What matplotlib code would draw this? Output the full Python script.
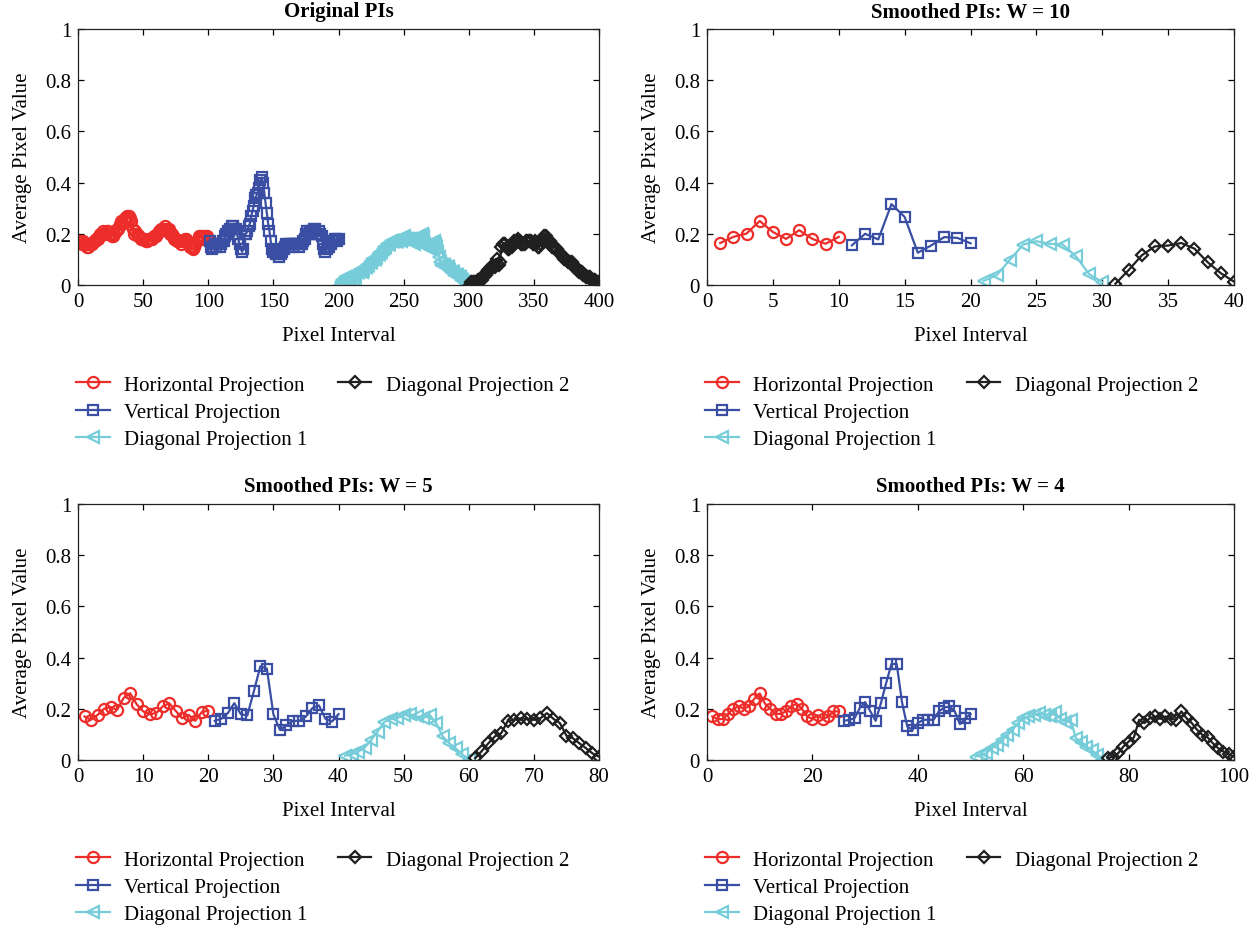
import numpy as np
import matplotlib
matplotlib.use("Agg")
import matplotlib.pyplot as plt
from matplotlib.lines import Line2D
from matplotlib.ticker import FuncFormatter

# ---------------- data ----------------
series_names = ["Horizontal Projection", "Vertical Projection",
                "Diagonal Projection 1", "Diagonal Projection 2"]

# Original PIs (100 values per projection)
orig_h = [0.17, 0.17, 0.16, 0.17, 0.16, 0.16, 0.15, 0.15, 0.16, 0.16,
          0.16, 0.17, 0.17, 0.18, 0.18, 0.19, 0.20, 0.20, 0.21, 0.20,
          0.20, 0.21, 0.21, 0.20, 0.20, 0.19, 0.19, 0.20, 0.21, 0.22,
          0.22, 0.24, 0.25, 0.24, 0.25, 0.26, 0.26, 0.27, 0.27, 0.26,
          0.25, 0.22, 0.20, 0.21, 0.20, 0.19, 0.19, 0.18, 0.18, 0.18,
          0.18, 0.17, 0.17, 0.18, 0.18, 0.18, 0.18, 0.19, 0.19, 0.19,
          0.20, 0.21, 0.21, 0.22, 0.22, 0.22, 0.23, 0.22, 0.21, 0.22,
          0.20, 0.20, 0.19, 0.18, 0.18, 0.17, 0.17, 0.17, 0.16, 0.17,
          0.17, 0.18, 0.18, 0.17, 0.16, 0.15, 0.15, 0.14, 0.15, 0.16,
          0.17, 0.18, 0.19, 0.19, 0.19, 0.19, 0.18, 0.19, 0.19, 0.18]
orig_v = [0.17, 0.15, 0.14, 0.15, 0.16, 0.15, 0.16, 0.16, 0.15, 0.16,
          0.17, 0.17, 0.19, 0.20, 0.21, 0.21, 0.22, 0.23, 0.23, 0.22,
          0.22, 0.20, 0.18, 0.16, 0.14, 0.13, 0.14, 0.20, 0.20, 0.21,
          0.23, 0.24, 0.27, 0.29, 0.31, 0.34, 0.35, 0.36, 0.38, 0.41,
          0.42, 0.40, 0.36, 0.32, 0.28, 0.24, 0.21, 0.17, 0.14, 0.13,
          0.13, 0.12, 0.12, 0.11, 0.12, 0.12, 0.13, 0.14, 0.15, 0.16,
          0.16, 0.15, 0.16, 0.16, 0.15, 0.16, 0.16, 0.16, 0.16, 0.15,
          0.16, 0.16, 0.17, 0.18, 0.20, 0.21, 0.20, 0.21, 0.20, 0.21,
          0.22, 0.22, 0.20, 0.20, 0.21, 0.20, 0.19, 0.16, 0.14, 0.13,
          0.14, 0.15, 0.15, 0.16, 0.17, 0.17, 0.18, 0.18, 0.17, 0.18]
orig_d1 = [0.00, 0.01, 0.02, 0.02, 0.03, 0.02, 0.01, 0.02, 0.03, 0.04,
           0.02, 0.02, 0.03, 0.05, 0.05, 0.06, 0.06, 0.05, 0.06, 0.07,
           0.07, 0.08, 0.08, 0.09, 0.09, 0.10, 0.10, 0.10, 0.11, 0.12,
           0.12, 0.13, 0.13, 0.14, 0.15, 0.15, 0.16, 0.16, 0.16, 0.17,
           0.17, 0.17, 0.17, 0.17, 0.17, 0.18, 0.18, 0.17, 0.18, 0.19,
           0.18, 0.18, 0.18, 0.17, 0.18, 0.17, 0.17, 0.16, 0.17, 0.18,
           0.18, 0.18, 0.19, 0.20, 0.19, 0.16, 0.15, 0.15, 0.15, 0.14,
           0.15, 0.16, 0.17, 0.16, 0.15, 0.13, 0.11, 0.09, 0.08, 0.08,
           0.08, 0.07, 0.07, 0.07, 0.06, 0.05, 0.05, 0.05, 0.04, 0.04,
           0.04, 0.03, 0.03, 0.02, 0.02, 0.01, 0.01, 0.00, 0.00, 0.00]
orig_d2 = [0.00, 0.01, 0.01, 0.01, 0.01, 0.01, 0.02, 0.02, 0.02, 0.02,
           0.03, 0.04, 0.04, 0.05, 0.06, 0.06, 0.07, 0.07, 0.08, 0.07,
           0.08, 0.10, 0.08, 0.09, 0.15, 0.16, 0.16, 0.16, 0.15, 0.14,
           0.14, 0.15, 0.15, 0.16, 0.17, 0.17, 0.17, 0.18, 0.17, 0.16,
           0.16, 0.16, 0.16, 0.17, 0.17, 0.17, 0.17, 0.17, 0.16, 0.16,
           0.17, 0.16, 0.15, 0.15, 0.16, 0.17, 0.18, 0.19, 0.19, 0.18,
           0.17, 0.17, 0.16, 0.15, 0.15, 0.15, 0.14, 0.14, 0.13, 0.12,
           0.12, 0.11, 0.10, 0.10, 0.10, 0.09, 0.09, 0.09, 0.09, 0.08,
           0.07, 0.07, 0.06, 0.06, 0.05, 0.05, 0.05, 0.04, 0.04, 0.03,
           0.03, 0.03, 0.03, 0.02, 0.02, 0.02, 0.02, 0.01, 0.01, 0.01]

# Smoothed W = 10 (10 values per projection)
w10_h = [0.164, 0.188, 0.201, 0.250, 0.207, 0.180, 0.214, 0.180, 0.161, 0.188]
w10_v = [0.155, 0.200, 0.178, 0.316, 0.266, 0.126, 0.154, 0.187, 0.184, 0.163]
w10_d1 = [0.016, 0.039, 0.099, 0.158, 0.171, 0.161, 0.158, 0.112, 0.043, 0.011]
w10_d2 = [0.005, 0.058, 0.116, 0.151, 0.154, 0.164, 0.142, 0.089, 0.046, 0.013]

# Smoothed W = 5 (20 values per projection)
w5_h = [0.170, 0.157, 0.176, 0.200, 0.207, 0.196, 0.242, 0.261, 0.218, 0.190,
        0.179, 0.183, 0.209, 0.222, 0.192, 0.163, 0.176, 0.153, 0.187, 0.193]
w5_v = [0.153, 0.161, 0.183, 0.222, 0.179, 0.174, 0.268, 0.366, 0.357, 0.179,
        0.118, 0.135, 0.153, 0.153, 0.170, 0.203, 0.213, 0.161, 0.150, 0.179]
w5_d1 = [0.017, 0.022, 0.033, 0.048, 0.078, 0.111, 0.148, 0.161, 0.163, 0.176,
         0.179, 0.170, 0.163, 0.176, 0.144, 0.092, 0.065, 0.046, 0.022, 0.004]
w5_d2 = [0.007, 0.035, 0.065, 0.092, 0.105, 0.153, 0.157, 0.163, 0.161, 0.157,
         0.163, 0.183, 0.161, 0.144, 0.095, 0.085, 0.065, 0.046, 0.026, 0.013]

# Smoothed W = 4 (25 values per projection)
w4_h = [0.170, 0.160, 0.160, 0.180, 0.200, 0.210, 0.200, 0.210, 0.240, 0.260,
        0.220, 0.200, 0.180, 0.180, 0.190, 0.210, 0.220, 0.200, 0.170, 0.160,
        0.175, 0.160, 0.170, 0.190, 0.190]
w4_v = [0.153, 0.157, 0.163, 0.203, 0.226, 0.190, 0.153, 0.222, 0.301, 0.375,
        0.375, 0.226, 0.131, 0.118, 0.144, 0.157, 0.157, 0.157, 0.190, 0.205,
        0.209, 0.190, 0.140, 0.163, 0.179]
w4_d1 = [0.013, 0.022, 0.026, 0.046, 0.059, 0.078, 0.098, 0.118, 0.144, 0.163,
         0.170, 0.176, 0.183, 0.176, 0.170, 0.187, 0.161, 0.150, 0.157, 0.085,
         0.072, 0.052, 0.039, 0.020, 0.004]
w4_d2 = [0.007, 0.013, 0.026, 0.052, 0.072, 0.088, 0.157, 0.144, 0.163, 0.170,
         0.161, 0.170, 0.161, 0.157, 0.190, 0.163, 0.144, 0.118, 0.098, 0.088,
         0.065, 0.046, 0.033, 0.022, 0.013]

titles = ["Original PIs", "Smoothed PIs: W = 10",
          "Smoothed PIs: W = 5", "Smoothed PIs: W = 4"]
xlims = [400, 40, 80, 100]
xtick_sets = [[0, 50, 100, 150, 200, 250, 300, 350, 400],
              [0, 5, 10, 15, 20, 25, 30, 35, 40],
              [0, 10, 20, 30, 40, 50, 60, 70, 80],
              [0, 20, 40, 60, 80, 100]]
yticks = [0, 0.2, 0.4, 0.6, 0.8, 1]
panels = [
    [orig_h, orig_v, orig_d1, orig_d2],
    [w10_h, w10_v, w10_d1, w10_d2],
    [w5_h, w5_v, w5_d1, w5_d2],
    [w4_h, w4_v, w4_d1, w4_d2],
]

# ---------------- style ----------------
colors = ["#EC2D2A", "#3A4FA3", "#76CDD9", "#202020"]
markers = ["o", "s", "<", "D"]
msizes = [8, 6.5, 8, 6]
FS = 15

plt.rcParams["font.family"] = ["Liberation Serif", "DejaVu Serif"]
plt.rcParams["font.size"] = FS

fig = plt.figure(figsize=(12.55, 9.28), dpi=100)
W, H = 1255.0, 928.0
rects = [(78, 30, 599, 286), (707, 30, 1234, 286),
         (78, 505, 599, 761), (707, 505, 1234, 761)]

fmt = FuncFormatter(lambda v, p: "%g" % v)

for i, (l, t, r, b) in enumerate(rects):
    ax = fig.add_axes([l / W, 1 - b / H, (r - l) / W, (b - t) / H])
    handles = []
    offset = 0
    for k, vals in enumerate(panels[i]):
        x = np.arange(offset + 1, offset + len(vals) + 1)
        offset += len(vals)
        ln, = ax.plot(x, vals, color=colors[k], marker=markers[k],
                      markersize=msizes[k], markerfacecolor="none",
                      markeredgewidth=1.6, linewidth=1.6,
                      label=series_names[k])
        handles.append(ln)
    ax.set_xlim(0, xlims[i])
    ax.set_ylim(0, 1)
    ax.set_xticks(xtick_sets[i])
    ax.set_yticks(yticks)
    ax.xaxis.set_major_formatter(fmt)
    ax.yaxis.set_major_formatter(fmt)
    ax.tick_params(direction="in", top=True, right=True, length=4,
                   width=0.9, labelsize=FS, pad=5)
    for s in ax.spines.values():
        s.set_linewidth(0.9)
        s.set_color("#222222")
    ax.set_title(titles[i], fontweight="bold", fontsize=FS, pad=9)
    ax.set_xlabel("Pixel Interval", fontsize=FS, labelpad=11)
    ax.set_ylabel("Average Pixel Value", fontsize=FS, labelpad=9)

    blank = Line2D([], [], alpha=0)
    ax.legend(handles=[handles[0], handles[1], handles[2], handles[3],
                       blank, blank],
              labels=[series_names[0], series_names[1], series_names[2],
                      series_names[3], "", ""],
              ncol=2, frameon=False, loc="upper left",
              bbox_to_anchor=(-0.003, -90.0 / (b - t)),
              borderaxespad=0, borderpad=0,
              handlelength=1.6, handletextpad=0.7,
              columnspacing=1.45, labelspacing=0.37, fontsize=FS)

fig.savefig("out.png", dpi=100)
